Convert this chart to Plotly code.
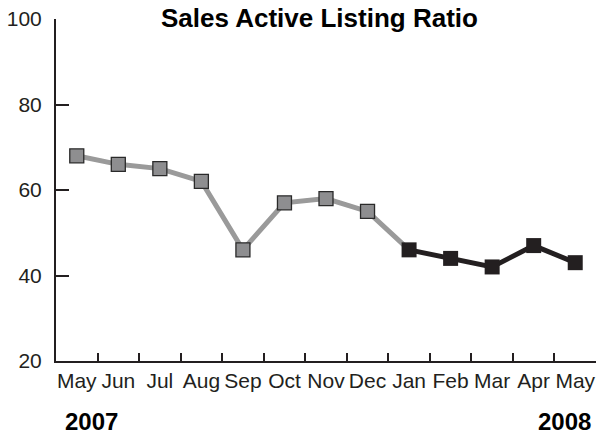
import plotly.graph_objects as go

months = ["May", "Jun", "Jul", "Aug", "Sep", "Oct", "Nov", "Dec", "Jan", "Feb", "Mar", "Apr", "May"]
years = ["2007"] * 8 + ["2008"] * 5
ratio = [68, 66, 65, 62, 46, 57, 58, 55, 46, 44, 42, 47, 43]
title_text = "Sales Active Listing Ratio"
year_labels = ["2007", "2008"]

keys = [f"{m} {y}" for m, y in zip(months, years)]
split = 8  # index of first 2008 point (Jan)

FONT = "Liberation Sans, Arial, sans-serif"
INK = "#231f20"

fig = go.Figure()
# gray 2007 line through Jan 2008
fig.add_trace(go.Scatter(
    x=keys[:split + 1], y=ratio[:split + 1], mode="lines",
    line=dict(color="#9a9a9a", width=5), hoverinfo="skip", showlegend=False))
# dark 2008 line
fig.add_trace(go.Scatter(
    x=keys[split:], y=ratio[split:], mode="lines+markers",
    line=dict(color=INK, width=5),
    marker=dict(symbol="square", size=15, color=INK, line=dict(color=INK, width=0)),
    showlegend=False))
# gray markers
fig.add_trace(go.Scatter(
    x=keys[:split], y=ratio[:split], mode="markers",
    marker=dict(symbol="square", size=14, color="#8e8e90", line=dict(color="#2a2a2a", width=1.3)),
    showlegend=False))

fig.update_layout(
    width=607, height=434,
    margin=dict(l=56, r=11, t=19, b=73, autoexpand=False),
    paper_bgcolor="white", plot_bgcolor="white",
    font=dict(family=FONT, color=INK),
    xaxis=dict(
        type="category", categoryorder="array", categoryarray=keys,
        tickvals=keys, ticktext=months, tickson="boundaries",
        range=[-0.5, len(keys) - 0.5], tickangle=0, automargin=False,
        showline=True, linecolor=INK, linewidth=2,
        ticks="inside", ticklen=8, tickwidth=1.5, tickcolor=INK,
        showgrid=False, zeroline=False,
        tickfont=dict(family=FONT, size=21, color=INK),
    ),
    yaxis=dict(
        range=[20, 100], tickvals=[20, 40, 60, 80, 100], automargin=False,
        showline=True, linecolor=INK, linewidth=2,
        ticks="inside", ticklen=13, tickwidth=1.5, tickcolor=INK,
        showgrid=False, zeroline=False,
        tickfont=dict(family=FONT, size=21, color=INK),
        ticklabelstandoff=8,
    ),
)

fig.add_annotation(text=f"<b>{title_text}</b>", xref="paper", yref="paper",
                   x=(319 - 56) / 540, y=1, yanchor="middle", yshift=1, showarrow=False,
                   font=dict(family=FONT, size=26, color="black"))
fig.add_annotation(text=f"<b>{year_labels[0]}</b>", xref="paper", yref="paper",
                   x=(63 - 56) / 540, xanchor="left", y=(361 - 421) / 342, yanchor="middle",
                   showarrow=False, font=dict(family=FONT, size=24, color="black"))
fig.add_annotation(text=f"<b>{year_labels[1]}</b>", xref="paper", yref="paper",
                   x=(593 - 56) / 540, xanchor="right", y=(361 - 421) / 342, yanchor="middle",
                   showarrow=False, font=dict(family=FONT, size=24, color="black"))

# remove the browser's default 8px body margin so the figure sits at the window corner
fig.write_html("out.html", config={"displayModeBar": False},
               post_script="document.body.style.margin='0';")
